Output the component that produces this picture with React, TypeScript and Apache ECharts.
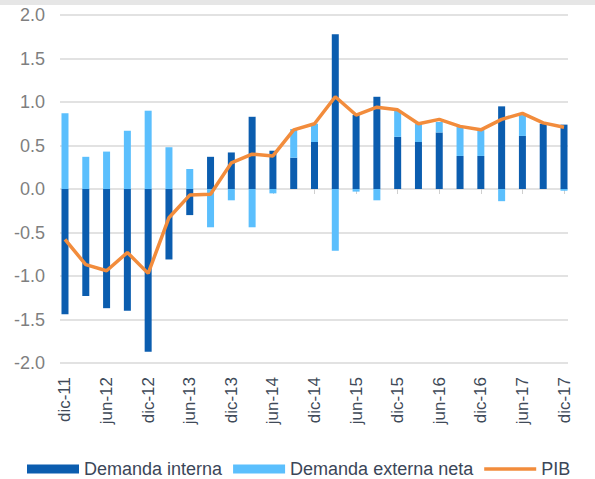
import React, { useEffect, useRef } from "react";
import * as echarts from "echarts";

const categories = [
  "dic-11", "mar-12", "jun-12", "sep-12", "dic-12", "mar-13", "jun-13", "sep-13",
  "dic-13", "mar-14", "jun-14", "sep-14", "dic-14", "mar-15", "jun-15", "sep-15",
  "dic-15", "mar-16", "jun-16", "sep-16", "dic-16", "mar-17", "jun-17", "sep-17", "dic-17",
];

const demandaInterna = [
  -1.44, -1.23, -1.37, -1.4, -1.87, -0.81, -0.3, 0.37, 0.42, 0.83, 0.44, 0.36, 0.54,
  1.78, 0.85, 1.06, 0.6, 0.54, 0.65, 0.38, 0.38, 0.95, 0.61, 0.75, 0.74,
];

const demandaExterna = [
  0.87, 0.37, 0.43, 0.67, 0.9, 0.48, 0.23, -0.44, -0.13, -0.44, -0.05, 0.33, 0.21,
  -0.71, -0.03, -0.13, 0.3, 0.21, 0.12, 0.34, 0.3, -0.14, 0.24, 0.0, -0.02,
];

const pib = [
  -0.58, -0.87, -0.94, -0.73, -0.97, -0.33, -0.07, -0.06, 0.3, 0.4, 0.38, 0.68, 0.75,
  1.06, 0.85, 0.94, 0.91, 0.75, 0.8, 0.72, 0.68, 0.8, 0.87, 0.76, 0.71,
];

const yMin = -2;
const yMax = 2;
const yInterval = 0.5;

const FONT = '"Liberation Sans", Arial, sans-serif';
const DARK = "#0b5daf";
const LIGHT = "#5bbffd";
const ORANGE = "#f28c3c";

export default function App() {
  const ref = useRef<HTMLDivElement>(null);

  useEffect(() => {
    if (!ref.current) return;
    const chart = echarts.init(ref.current, null, { renderer: "svg" });
    chart.setOption({
      animation: false,
      backgroundColor: "#ffffff",
      textStyle: { fontFamily: FONT },
      graphic: [
        {
          type: "rect",
          left: 0,
          top: 0,
          shape: { width: 595, height: 5 },
          style: { fill: "#e6e6e6" },
          silent: true,
        },
      ],
      grid: [
        { left: 54.6, right: 20.6, top: 15, bottom: 116 },
        { left: 60, right: 27, top: 15, bottom: 116 },
      ],
      legend: {
        left: 22,
        top: 455,
        itemWidth: 52,
        itemHeight: 9,
        itemGap: 11,
        textStyle: { fontSize: 18, color: "#3b4658", fontFamily: FONT },
        data: [
          { name: "Demanda interna", icon: "rect" },
          { name: "Demanda externa neta", icon: "rect" },
          { name: "PIB", icon: "path://M0,0 L52,0 L52,3.5 L0,3.5 Z" },
        ],
      },
      xAxis: [
        {
          type: "category",
          gridIndex: 0,
          position: "bottom",
          data: categories,
          boundaryGap: true,
          axisLine: { show: false, onZero: false },
          axisTick: { show: false },
          axisLabel: {
            interval: 1,
            rotate: 90,
            margin: 14,
            fontSize: 17,
            color: "#404a58",
            fontFamily: FONT,
          },
          splitLine: { show: false },
        },
        {
          type: "category",
          gridIndex: 0,
          position: "bottom",
          data: categories,
          boundaryGap: true,
          axisLine: { show: true, onZero: true, lineStyle: { opacity: 0 } },
          axisTick: {
            show: true,
            alignWithLabel: true,
            interval: 1,
            length: 5,
            lineStyle: { color: "#cfcfcf", width: 1 },
          },
          axisLabel: { show: false },
          splitLine: { show: false },
        },
        {
          type: "value",
          gridIndex: 1,
          min: 0,
          max: 1,
          show: false,
        },
      ],
      yAxis: [
        {
          type: "value",
          gridIndex: 0,
          min: yMin,
          max: yMax,
          interval: yInterval,
          show: false,
        },
        {
          type: "value",
          gridIndex: 1,
          min: yMin,
          max: yMax,
          interval: yInterval,
          axisLine: { show: false },
          axisTick: { show: false },
          axisLabel: {
            margin: 15,
            fontSize: 18,
            color: "#7f7f7f",
            fontFamily: FONT,
            formatter: (v: number) => v.toFixed(1),
          },
          splitLine: { show: true, lineStyle: { color: "#d9d9d9", width: 1.5 } },
        },
      ],
      series: [
        {
          name: "Demanda interna",
          type: "bar",
          xAxisIndex: 0,
          yAxisIndex: 0,
          stack: "total",
          barWidth: 7,
          itemStyle: { color: DARK },
          data: demandaInterna,
        },
        {
          name: "Demanda externa neta",
          type: "bar",
          xAxisIndex: 0,
          yAxisIndex: 0,
          stack: "total",
          barWidth: 7,
          itemStyle: { color: LIGHT },
          data: demandaExterna,
        },
        {
          name: "PIB",
          type: "line",
          xAxisIndex: 0,
          yAxisIndex: 0,
          symbol: "none",
          lineStyle: { color: ORANGE, width: 3.5 },
          itemStyle: { color: ORANGE },
          data: pib,
          z: 5,
        },
      ],
    });
    return () => chart.dispose();
  }, []);

  return (
    <div
      ref={ref}
      style={{ position: "fixed", left: 0, top: 0, width: 595, height: 479 }}
    />
  );
}
